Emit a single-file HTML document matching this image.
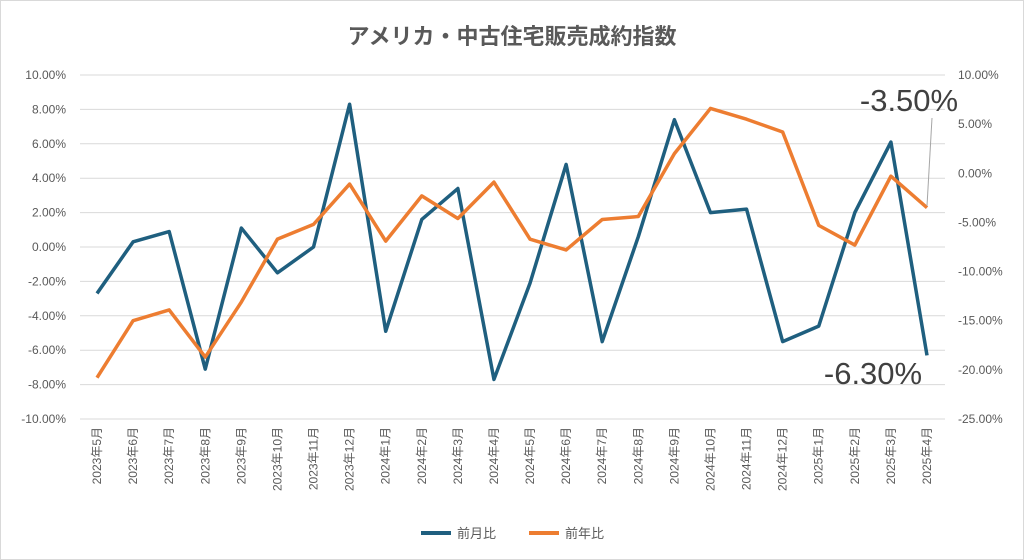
<!DOCTYPE html>
<html><head><meta charset="utf-8"><style>
body{margin:0;background:#fff;}
svg{display:block;font-family:"Liberation Sans","Noto Sans CJK JP",sans-serif;}
</style></head><body>
<svg id="c" width="1024" height="560">
<rect x="0.5" y="0.5" width="1023" height="559" fill="#fff" stroke="#d9d9d9"/>
<text x="512" y="44" text-anchor="middle" font-size="22" font-weight="bold" fill="#595959">アメリカ・中古住宅販売成約指数</text>
<g id="grid"></g><g id="axes"></g><g id="series"></g>
<g>
<line x1="421" y1="533" x2="451" y2="533" stroke="#1f5f7f" stroke-width="4"/>
<text x="457" y="538" font-size="13" fill="#595959">前月比</text>
<line x1="529" y1="533" x2="559" y2="533" stroke="#ed7d31" stroke-width="4"/>
<text x="565" y="538" font-size="13" fill="#595959">前年比</text>
</g>
<line x1="932" y1="118" x2="927" y2="206" stroke="#a6a6a6" stroke-width="1"/>
<text x="909" y="111" text-anchor="middle" font-size="31" fill="#404040">-3.50%</text>
<text x="873" y="384" text-anchor="middle" font-size="31" fill="#404040">-6.30%</text>
</svg>
<script>
const categories=["2023年5月","2023年6月","2023年7月","2023年8月","2023年9月","2023年10月","2023年11月","2023年12月","2024年1月","2024年2月","2024年3月","2024年4月","2024年5月","2024年6月","2024年7月","2024年8月","2024年9月","2024年10月","2024年11月","2024年12月","2025年1月","2025年2月","2025年3月","2025年4月"];
const momValues=[-2.7,0.3,0.9,-7.1,1.1,-1.5,0.0,8.3,-4.9,1.6,3.4,-7.7,-2.1,4.8,-5.5,0.6,7.4,2.0,2.2,-5.5,-4.6,2.0,6.1,-6.3];
const yoyValues=[-20.8,-15.0,-13.9,-18.7,-13.1,-6.7,-5.2,-1.1,-6.9,-2.3,-4.6,-0.9,-6.7,-7.8,-4.7,-4.4,2.0,6.6,5.5,4.2,-5.3,-7.3,-0.3,-3.5];
const leftTicks=[10,8,6,4,2,0,-2,-4,-6,-8,-10];
const rightTicks=[10,5,0,-5,-10,-15,-20,-25];
const NS="http://www.w3.org/2000/svg";
const plotTop=75,plotBot=419,x0=97,x1=927;
const yL=v=>plotTop+(10-v)/20*(plotBot-plotTop);
const yR=v=>plotTop+(10-v)/35*(plotBot-plotTop);
const xS=i=>x0+i*(x1-x0)/(categories.length-1);
function mk(t,a,p){const e=document.createElementNS(NS,t);for(const k in a)e.setAttribute(k,a[k]);p.appendChild(e);return e;}
const grid=document.getElementById('grid'),axes=document.getElementById('axes'),ser=document.getElementById('series');
leftTicks.forEach(v=>{
 const l=mk('line',{x1:80,x2:945,y1:yL(v),y2:yL(v),stroke:'#d9d9d9'},grid);
 
 
 const t=mk('text',{x:66,y:yL(v)+4,'text-anchor':'end','font-size':12,fill:'#595959'},axes);
 t.textContent=v.toFixed(2)+'%';
 
 
});
rightTicks.forEach(v=>{
 const t=mk('text',{x:958,y:yR(v)+4,'font-size':12,fill:'#595959'},axes);
 t.textContent=v.toFixed(2)+'%';
 
 
});
categories.forEach((c,i)=>{
 const t=mk('text',{x:0,y:0,'text-anchor':'end','font-size':12,fill:'#595959',transform:`translate(${xS(i)+4},427) rotate(-90)`},axes);
 t.textContent=c;
 
 
});
const p1=mk('polyline',{points:momValues.map((v,i)=>xS(i)+','+yL(v)).join(' '),fill:'none',stroke:'#1f5f7f','stroke-width':3.5,'stroke-linejoin':'round'},ser);


const p2=mk('polyline',{points:yoyValues.map((v,i)=>xS(i)+','+yR(v)).join(' '),fill:'none',stroke:'#ed7d31','stroke-width':3.5,'stroke-linejoin':'round'},ser);


</script>
</body></html>
